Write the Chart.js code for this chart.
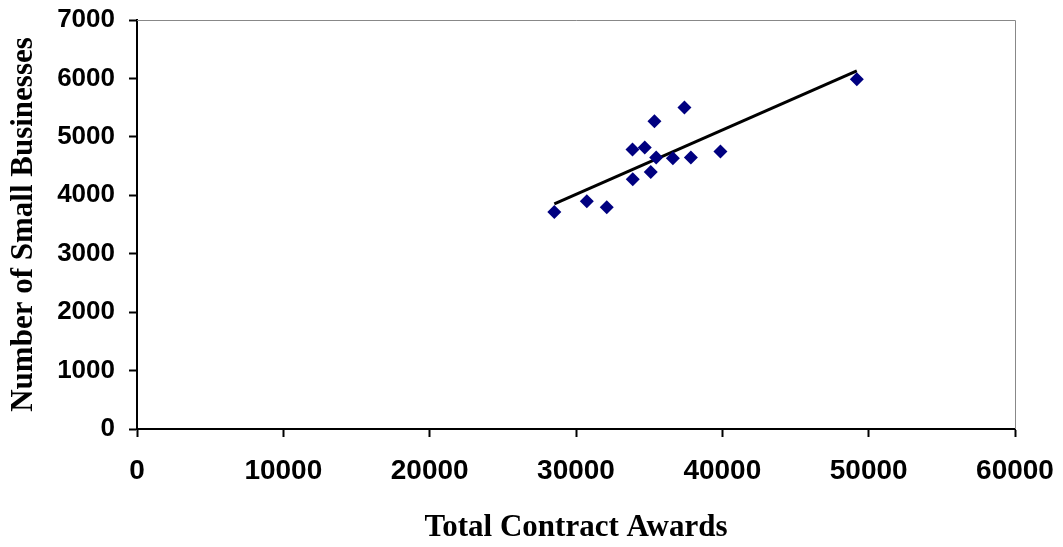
<!DOCTYPE html>
<html>
<head>
<meta charset="utf-8">
<script src="https://cdn.jsdelivr.net/npm/chart.js@4/dist/chart.umd.min.js"></script>
<style>
  html, body { margin: 0; padding: 0; background: #fff; }
  #wrap { width: 1063px; height: 547px; }
</style>
</head>
<body>
<div id="wrap"><canvas id="chart" width="1063" height="547"></canvas></div>
<script>
// Total contract awards (x) vs number of small businesses (y)
const awards = [28520, 30740, 32100, 33880, 33860, 34700, 35360, 35110, 35480, 36620, 37410, 37850, 39870, 49190];
const businesses = [3715, 3898, 3795, 4275, 4784, 4818, 5269, 4400, 4647, 4635, 5504, 4647, 4750, 5984];
const xTicks = [0, 10000, 20000, 30000, 40000, 50000, 60000];
const yTicks = [0, 1000, 2000, 3000, 4000, 5000, 6000, 7000];

const points = awards.map((x, i) => ({ x: x, y: businesses[i] }));

// linear trendline (least squares), drawn over the data range
const n = awards.length;
const mx = awards.reduce((a, b) => a + b, 0) / n;
const my = businesses.reduce((a, b) => a + b, 0) / n;
let sxy = 0, sxx = 0;
for (let i = 0; i < n; i++) {
  sxy += (awards[i] - mx) * (businesses[i] - my);
  sxx += (awards[i] - mx) ** 2;
}
const slope = sxy / sxx;
const icpt = my - slope * mx;
const xMin = Math.min(...awards), xMax = Math.max(...awards);
const trend = [
  { x: xMin, y: icpt + slope * xMin },
  { x: xMax, y: icpt + slope * xMax }
];

const sans = "'Liberation Sans', Arial, sans-serif";
const serif = "'Liberation Serif', 'Times New Roman', serif";
const titleFont = { family: serif, size: 31, weight: "bold" };

// thin grey top/right frame
const frame = {
  id: "frame",
  afterDraw(c) {
    const { ctx, chartArea: a } = c;
    ctx.save();
    ctx.strokeStyle = "#888";
    ctx.lineWidth = 1;
    ctx.beginPath();
    ctx.moveTo(a.left, a.top + 0.5);
    ctx.lineTo(a.right + 0.5, a.top + 0.5);
    ctx.lineTo(a.right + 0.5, a.bottom);
    ctx.stroke();
    ctx.restore();
  }
};

new Chart(document.getElementById("chart"), {
  type: "scatter",
  data: {
    datasets: [
      {
        label: "Small businesses",
        data: points,
        pointStyle: "rectRot",
        pointRadius: 7,
        pointBackgroundColor: "#000080",
        pointBorderColor: "#000080",
        pointBorderWidth: 0
      },
      {
        label: "Linear trend",
        data: trend,
        showLine: true,
        borderColor: "#000",
        borderWidth: 3,
        pointRadius: 0
      }
    ]
  },
  options: {
    responsive: false,
    animation: false,
    layout: { padding: { top: 20, right: 48, left: 5, bottom: 0 } },
    plugins: { legend: { display: false }, tooltip: { enabled: false } },
    scales: {
      x: {
        type: "linear",
        min: 0,
        max: 60000,
        afterBuildTicks: s => { s.ticks = xTicks.map(v => ({ value: v })); },
        afterFit: s => { s.height = 118; s.paddingLeft = 0; s.paddingRight = 0; },
        ticks: { font: { family: sans, size: 28, weight: "bold" }, color: "#000", padding: 17, maxRotation: 0, callback: v => String(v) },
        grid: { drawOnChartArea: false, tickLength: 8, tickColor: "#000", tickWidth: 2 },
        border: { color: "#000", width: 2 },
        title: { display: true, text: "Total Contract Awards", font: titleFont, color: "#000", padding: { top: 20, bottom: 0 } }
      },
      y: {
        min: 0,
        max: 7000,
        afterBuildTicks: s => { s.ticks = yTicks.map(v => ({ value: v })); },
        afterFit: s => { s.width = 132; s.paddingTop = 0; s.paddingBottom = 0; },
        ticks: { font: { family: sans, size: 26, weight: "bold" }, color: "#000", padding: 14, callback: v => String(v) },
        grid: { drawOnChartArea: false, tickLength: 8, tickColor: "#000", tickWidth: 2 },
        border: { color: "#000", width: 2 },
        title: { display: true, text: "Number of Small Businesses", font: titleFont, color: "#000", padding: 0 }
      }
    }
  },
  plugins: [frame]
});
</script>
</body>
</html>
